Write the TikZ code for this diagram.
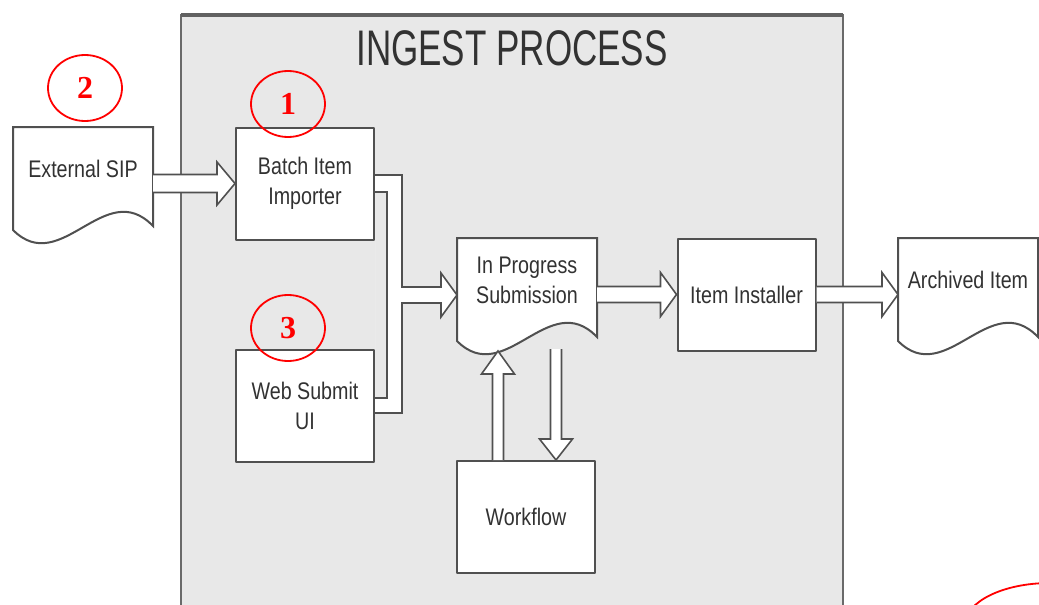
\documentclass[tikz,border=0pt]{standalone}
\usepackage{fontspec}
\setmainfont{Liberation Sans}[FakeStretch=0.82]
\newfontfamily\titlefont{Liberation Sans}[FakeStretch=0.7]
\newfontfamily\markfont{Liberation Serif}
\usetikzlibrary{calc,shapes.geometric,backgrounds}

\definecolor{panelgray}{RGB}{232,232,232}
\definecolor{edgegray}{RGB}{80,80,80}
\definecolor{inkgray}{RGB}{50,50,50}

% Hollow block arrow from tail #1 to tip #2.
\newcommand\flowshaft{4.5pt}
\newcommand\flowwing{10.75pt}
\newcommand\flowhead{9pt}
\newcommand\flowarrow[2]{%
  \coordinate (fa-t) at (#1);
  \coordinate (fa-h) at (#2);
  \coordinate (fa-b) at ($(fa-h)!\flowhead!(fa-t)$);
  \draw[flow] ($(fa-t)!\flowshaft!90:(fa-h)$) -- ($(fa-b)!\flowshaft!-90:(fa-t)$)
    -- ($(fa-b)!\flowwing!-90:(fa-t)$) -- (fa-h) -- ($(fa-b)!\flowwing!90:(fa-t)$)
    -- ($(fa-b)!\flowshaft!90:(fa-t)$) -- ($(fa-t)!\flowshaft!-90:(fa-h)$);
}
% Document outline (wavy bottom) round a doc node.
\newcommand\docoutline[1]{%
  \draw[docline] (#1.north west) -- (#1.north east) -- ($(#1.south east)+(0,15)$)
    .. controls +(-48,-50) and +(48,48) .. ($(#1.south west)+(0,19)$) -- cycle;
}

\begin{document}
\begin{tikzpicture}[x=0.5pt, y=-0.5pt, line join=round,
    box/.style={draw=edgegray, fill=white, line width=1pt, minimum width=69pt,
      minimum height=56pt, align=center, text=inkgray, inner sep=2pt,
      font=\fontsize{12}{15}\selectfont},
    doc/.style={box, draw=none, fill=none, minimum height=41pt},
    docline/.style={draw=edgegray, fill=white, line width=1pt},
    flow/.style={draw=edgegray, fill=white, line width=.8pt, line join=miter},
    pipe/.style={flow, even odd rule},
    tag/.style={draw=red, ellipse, line width=.9pt, minimum width=37pt,
      minimum height=33pt, inner sep=0pt, text=red,
      font=\markfont\bfseries\fontsize{16}{16}\selectfont}]
  \useasboundingbox (0,0) rectangle (1039,605);

  % Ingest process panel.
  \begin{scope}[on background layer]
    \fill[panelgray] (181,15) rectangle (843,612);
    \draw[edgegray!85, line width=1pt] (181,612) -- (181,15) -- (843,15) -- (843,612);
    \draw[edgegray!90, line width=2pt] (181,15) -- (843,15);
  \end{scope}
  \node[font=\titlefont\fontsize{25}{25}\selectfont, text=inkgray] (title) at (512,48) {INGEST PROCESS};

  % Steps.
  \node[doc] (ext) at (83,169) {External SIP};
  \node[box] (batch) at (305,183.5) {Batch Item\\Importer};
  \node[box] (web) at (305,406) {Web Submit\\UI};
  \node[doc] (inprog) at (527,280) {In Progress\\Submission};
  \node[box] (installer) at (746.5,294.5) {Item Installer};
  \node[box] (workflow) at (526,517) {Workflow};
  \node[doc] (archived) at (968,280) {Archived Item};
  \begin{scope}[on background layer]
    \foreach \d in {ext,inprog,archived}{\docoutline{\d}}
  \end{scope}

  % Flows.
  \flowarrow{batch.west -| ext.east}{batch.west}
  \renewcommand\flowshaft{4pt}\renewcommand\flowwing{11pt}\renewcommand\flowhead{8pt}
  \flowarrow{installer.west -| inprog.east}{installer.west}
  \flowarrow{installer.east}{installer.east -| archived.west}
  \coordinate (merge) at ($(inprog.west)+(0,15)$);
  \draw[pipe] ($(batch.east)+(0,-8.5)$) -| ($(merge)+(-55,-8)$) -- ($(merge)+(-16,-8)$)
    -- ($(merge)+(-16,-22)$) -- (merge) -- ($(merge)+(-16,22)$) -- ($(merge)+(-16,8)$)
    -- ($(merge)+(-55,8)$) |- ($(web.east)+(0,7)$)
    ($(web.east)+(0,-8)$) -| ($(merge)+(-70,0)$) |- ($(batch.east)+(0,8.5)$);
  \renewcommand\flowshaft{2.75pt}\renewcommand\flowwing{8.25pt}\renewcommand\flowhead{11.5pt}
  \flowarrow{$(workflow.north)+(-28,0)$}{$(workflow.north)+(-28,-109)$}
  \renewcommand\flowhead{10.5pt}
  \flowarrow{$(workflow.north)+(30,-111)$}{$(workflow.north)+(30,0)$}

  % Numbered marks.
  \node[tag] (tag2) at (85,88) {2};
  \node[tag] (tag1) at (288,104) {1};
  \node[tag] (tag3) at (288,328) {3};
  \begin{scope}
    \clip (0,0) rectangle (1039,605);
    \node[tag, minimum width=85pt, minimum height=42pt] (tag4) at (1050,625) {};
  \end{scope}
\end{tikzpicture}
\end{document}
